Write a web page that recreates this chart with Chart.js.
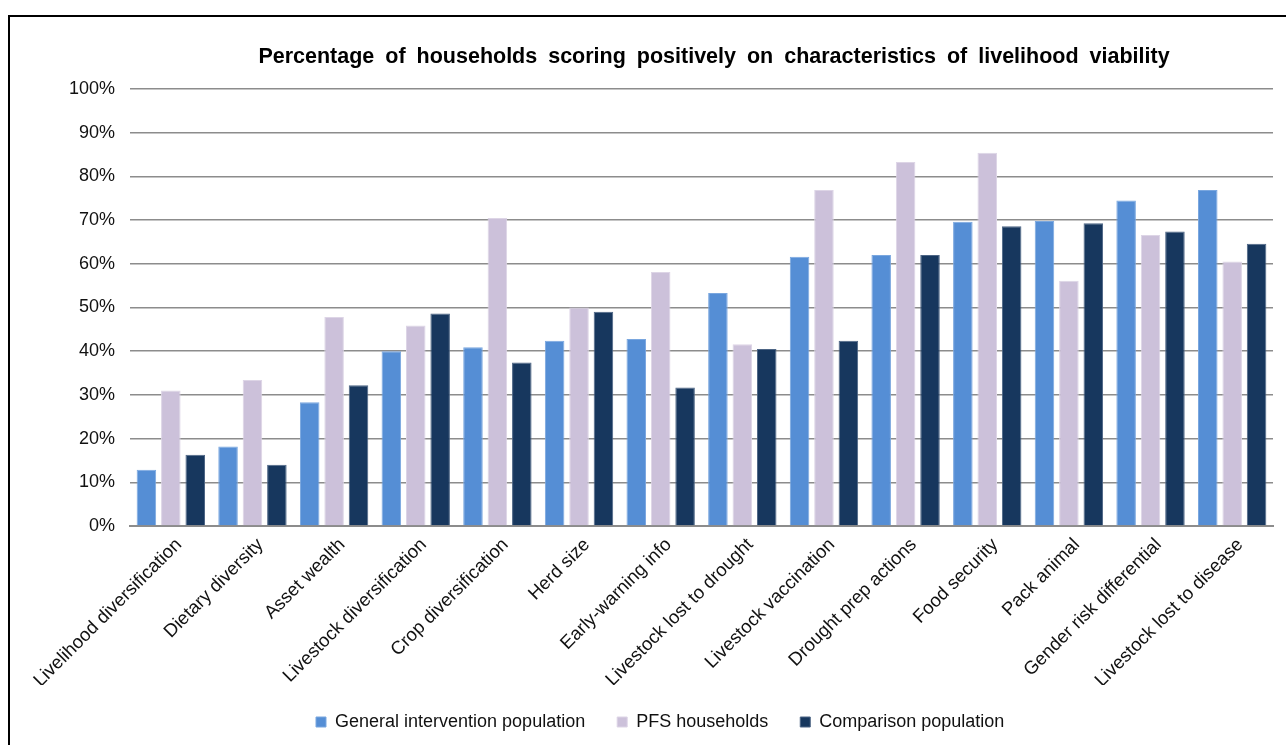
<!DOCTYPE html>
<html>
<head>
<meta charset="utf-8">
<title>Livelihood viability</title>
<script src="https://cdn.jsdelivr.net/npm/chart.js@4/dist/chart.umd.min.js"></script>
<style>
  html, body { margin: 0; padding: 0; background: #ffffff; overflow: hidden; }
  #wrap { position: relative; width: 1286px; height: 745px; overflow: hidden; }
  #frame { position: absolute; left: 8px; top: 15px; width: 1400px; height: 900px;
           border: 2px solid #000; box-sizing: border-box; }
  #chart { position: absolute; left: 0; top: 0; }
</style>
</head>
<body>
<div id="wrap">
  <div id="frame"></div>
  <canvas id="chart" width="1286" height="745"></canvas>
</div>
<script>
const chartTitle = 'Percentage of households scoring positively on characteristics of livelihood viability';

const categories = [
  'Livelihood diversification', 'Dietary diversity', 'Asset wealth',
  'Livestock diversification', 'Crop diversification', 'Herd size',
  'Early-warning info', 'Livestock lost to drought', 'Livestock vaccination',
  'Drought prep actions', 'Food security', 'Pack animal',
  'Gender risk differential', 'Livestock lost to disease'
];

const seriesNames = ['General intervention population', 'PFS households', 'Comparison population'];

const generalIntervention = [12.9, 18.2, 28.3, 40.0, 40.9, 42.4, 42.8, 53.3, 61.6, 62.0, 69.6, 69.8, 74.5, 76.9];
const pfsHouseholds       = [31.0, 33.4, 47.8, 45.9, 70.5, 50.0, 58.1, 41.6, 76.9, 83.3, 85.4, 56.1, 66.6, 60.5];
const comparisonPop       = [16.3, 14.0, 32.2, 48.6, 37.4, 49.0, 31.7, 40.5, 42.4, 62.0, 68.6, 69.3, 67.4, 64.6];

const yTicks = [0, 10, 20, 30, 40, 50, 60, 70, 80, 90, 100];

const FONT = "'Liberation Sans', Arial, Helvetica, sans-serif";

// Moves the title and legend blocks to their spots after Chart.js lays out the chart,
// and gives the title a little extra space between words
const placeBlocks = {
  id: 'placeBlocks',
  afterLayout(chart) {
    const t = chart.titleBlock;
    if (t) {
      const dx = 714 - (t.left + t.right) / 2;
      t.left += dx; t.right += dx;
      if (!t._spaced) {
        const baseDraw = t.draw;
        t.draw = function () {
          const ctx = chart.ctx;
          ctx.save();
          ctx.wordSpacing = '5px';
          baseDraw.apply(this, arguments);
          ctx.restore();
        };
        t._spaced = true;
      }
    }
    const lg = chart.legend;
    if (lg) {
      const pad = lg.options.labels.padding;
      const dx = 316 - (lg.left + pad);
      lg.left += dx; lg.right += dx;
      const dy = (722 - pad - 9) - lg.top;
      lg.top += dy; lg.bottom += dy;
    }
  }
};

new Chart(document.getElementById('chart'), {
  type: 'bar',
  data: {
    labels: categories,
    datasets: [
      { label: seriesNames[0], data: generalIntervention, backgroundColor: '#558ED5', borderColor: '#7aa7df', borderWidth: 1 },
      { label: seriesNames[1], data: pfsHouseholds,       backgroundColor: '#CCC1DA', borderColor: '#ddd5e6', borderWidth: 1 },
      { label: seriesNames[2], data: comparisonPop,       backgroundColor: '#17375E', borderColor: '#4d6585', borderWidth: 1 }
    ]
  },
  options: {
    responsive: false,
    animation: false,
    devicePixelRatio: 1,
    datasets: { bar: { categoryPercentage: 0.897, barPercentage: 0.8 } },
    layout: { padding: { left: 0, right: 13, top: 0, bottom: 0 } },
    plugins: {
      title: {
        display: true,
        text: chartTitle,
        color: '#000',
        font: { family: FONT, size: 21.5, weight: 'bold', lineHeight: 1.2 },
        padding: { top: 44.1, bottom: 19.1 }
      },
      legend: {
        display: true,
        position: 'bottom',
        align: 'start',
        labels: {
          color: '#111',
          font: { family: FONT, size: 18 },
          boxWidth: 10,
          boxHeight: 10,
          padding: 32
        }
      },
      tooltip: { enabled: false }
    },
    scales: {
      x: {
        grid: { display: false, drawTicks: false },
        border: { display: true, color: '#8c8c8c', width: 2 },
        ticks: {
          color: '#111',
          font: { family: FONT, size: 18.5 },
          minRotation: 45,
          maxRotation: 45,
          padding: 8,
          labelOffset: 8,
          autoSkip: false
        },
        afterFit(scale) { scale.height = 159; }
      },
      y: {
        min: 0,
        max: 100,
        afterBuildTicks(scale) { scale.ticks = yTicks.map(v => ({ value: v })); },
        grid: { color: '#8c8c8c', lineWidth: 1.5, drawTicks: false },
        border: { display: false },
        ticks: {
          color: '#111',
          font: { family: FONT, size: 18 },
          padding: 15,
          callback: v => v + '%'
        },
        afterFit(scale) { scale.width = 130; }
      }
    }
  },
  plugins: [placeBlocks]
});
</script>
</body>
</html>
